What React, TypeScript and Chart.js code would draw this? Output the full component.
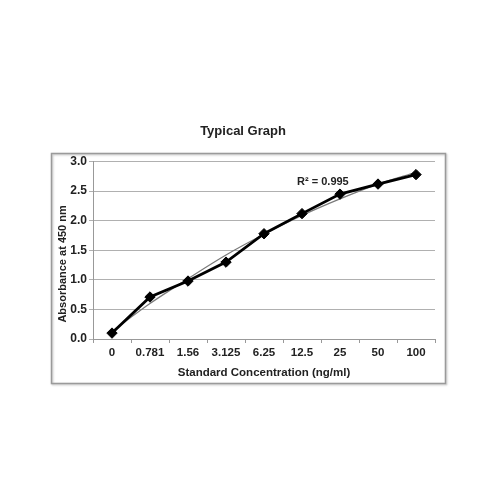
import React, { useEffect, useRef } from 'react';
import { Chart, registerables } from 'chart.js';

Chart.register(...registerables);

const concentrations = ['0', '0.781', '1.56', '3.125', '6.25', '12.5', '25', '50', '100'];
const absorbance = [0.1, 0.71, 0.98, 1.3, 1.78, 2.12, 2.45, 2.62, 2.78];
// grey polynomial trendline
const trendValues = [0.13, 0.6, 1.02, 1.42, 1.77, 2.09, 2.37, 2.62, 2.82];
const rSquaredLabel = 'R² = 0.995';
const yAxisTitle = 'Absorbance at 450 nm';

const FONT = '"Liberation Sans", Arial, sans-serif';

const boxBorder = {
  id: 'boxBorder',
  beforeDraw(chart: any) {
    const { ctx } = chart;
    ctx.save();
    ctx.fillStyle = '#fff';
    ctx.fillRect(0, 0, chart.width, chart.height);
    ctx.shadowColor = 'rgba(0,0,0,0.25)';
    ctx.shadowOffsetX = 1;
    ctx.shadowOffsetY = 1;
    ctx.shadowBlur = 2;
    ctx.strokeStyle = '#9a9a9a';
    ctx.lineWidth = 1.5;
    ctx.strokeRect(51.5, 153.5, 394, 230);
    ctx.restore();
  },
};

// R² text and the y axis title (Excel puts it a little below the middle)
const extraText = {
  id: 'extraText',
  afterDraw(chart: any) {
    const { ctx } = chart;
    const x = chart.scales.x.getPixelForValue(5.55);
    const y = chart.scales.y.getPixelForValue(2.66);
    ctx.save();
    ctx.font = `bold 11px ${FONT}`;
    ctx.fillStyle = '#222';
    ctx.textAlign = 'center';
    ctx.textBaseline = 'middle';
    ctx.fillText(rSquaredLabel, x, y);
    ctx.translate(63, chart.scales.y.getPixelForValue(1.27));
    ctx.rotate(-Math.PI / 2);
    ctx.fillText(yAxisTitle, 0, 0);
    ctx.restore();
  },
};

const App: React.FC = () => {
  const chartRef = useRef<HTMLCanvasElement | null>(null);

  useEffect(() => {
    if (!chartRef.current) return;
    const chart = new Chart(chartRef.current, {
      type: 'line',
      data: {
        labels: concentrations,
        datasets: [
          {
            label: 'Absorbance',
            data: absorbance,
            borderColor: '#000',
            borderWidth: 2.8,
            pointStyle: 'rectRot',
            pointRadius: 5.2,
            pointBorderWidth: 1,
            pointBackgroundColor: '#000',
            pointBorderColor: '#000',
            tension: 0,
            order: 1,
          },
          {
            label: 'Trend',
            data: trendValues,
            borderColor: '#7a7a7a',
            borderWidth: 1.2,
            pointRadius: 0,
            cubicInterpolationMode: 'monotone',
            order: 2,
          },
        ],
      },
      options: {
        responsive: true,
        maintainAspectRatio: false,
        animation: false,
        layout: { padding: { left: 51, right: 65, top: 0, bottom: 116 } },
        plugins: {
          legend: { display: false },
          tooltip: { enabled: false },
          title: {
            display: true,
            text: 'Typical Graph',
            color: '#222',
            font: { family: FONT, size: 13, weight: 'bold', lineHeight: 1.2 },
            padding: { top: 124, bottom: 22 },
          },
        },
        scales: {
          x: {
            offset: true,
            afterFit: (s: any) => {
              s.height = 45;
            },
            grid: {
              offset: true,
              drawOnChartArea: false,
              drawTicks: true,
              tickLength: 4,
              color: '#999',
            },
            border: { display: true, color: '#999', width: 1 },
            ticks: {
              color: '#222',
              padding: 3,
              maxRotation: 0,
              autoSkip: false,
              font: { family: FONT, size: 11.5, weight: 'bold' },
            },
            title: {
              display: true,
              text: 'Standard Concentration (ng/ml)',
              color: '#222',
              padding: { top: 0, bottom: 4 },
              font: { family: FONT, size: 11.5, weight: 'bold', lineHeight: 1.2 },
            },
          },
          y: {
            min: 0,
            max: 3,
            afterFit: (s: any) => {
              s.width = 42;
            },
            grid: {
              color: '#b0b0b0',
              drawTicks: true,
              tickLength: 4,
            },
            border: { display: true, color: '#999', width: 1 },
            ticks: {
              stepSize: 0.5,
              color: '#222',
              padding: 2,
              font: { family: FONT, size: 12, weight: 'bold' },
              callback: (v: any) => Number(v).toFixed(1),
            },
            title: { display: false },
          },
        },
      },
      plugins: [boxBorder, extraText],
    });
    return () => {
      chart.destroy();
    };
  }, []);

  return (
    <div style={{ position: 'fixed', left: 0, top: 0, width: 500, height: 500, background: '#fff' }}>
      <canvas ref={chartRef} />
    </div>
  );
};

export default App;
